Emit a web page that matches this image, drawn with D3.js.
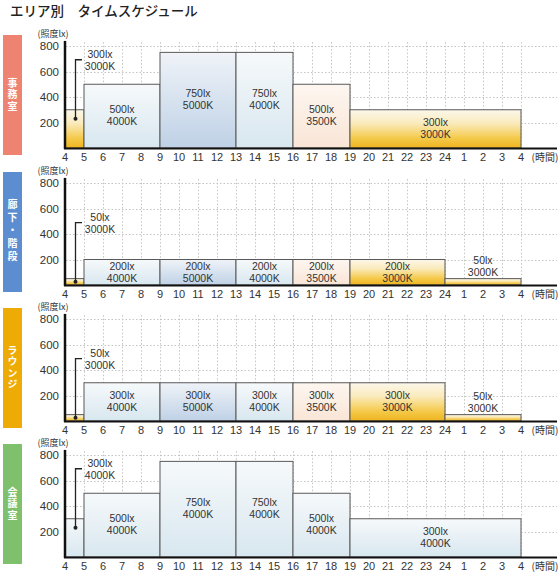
<!DOCTYPE html>
<html><head><meta charset="utf-8">
<script src="https://cdn.jsdelivr.net/npm/d3@7"></script>
<style>
html,body{margin:0;padding:0;background:#fff;}
svg{display:block;font-family:"Noto Sans CJK JP","Noto Sans",sans-serif;}
.num{font-family:"Liberation Sans",Arial,sans-serif;}
</style></head>
<body>
<script>
// ---------- data ----------
const title = "エリア別　タイムスケジュール";
const areaNames = ["事務室", "廊下・階段", "ラウンジ", "会議室"];
const hourTicks = [4,5,6,7,8,9,10,11,12,13,14,15,16,17,18,19,20,21,22,23,24,25,26,27,28];
const hourLabels = ["4","5","6","7","8","9","10","11","12","13","14","15","16","17","18","19","20","21","22","23","24","1","2","3","4"];
const luxTicks = [200, 400, 600, 800];

const officeStart = [4, 5, 9, 13, 16, 19];
const officeEnd   = [5, 9, 13, 16, 19, 28];
const officeLux   = [300, 500, 750, 750, 500, 300];
const officeK     = [3000, 4000, 5000, 4000, 3500, 3000];

const corridorStart = [4, 5, 9, 13, 16, 19, 24];
const corridorEnd   = [5, 9, 13, 16, 19, 24, 28];
const corridorLux   = [50, 200, 200, 200, 200, 200, 50];
const corridorK     = [3000, 4000, 5000, 4000, 3500, 3000, 3000];

const loungeStart = [4, 5, 9, 13, 16, 19, 24];
const loungeEnd   = [5, 9, 13, 16, 19, 24, 28];
const loungeLux   = [50, 300, 300, 300, 300, 300, 50];
const loungeK     = [3000, 4000, 5000, 4000, 3500, 3000, 3000];

const meetingStart = [4, 5, 9, 13, 16, 19];
const meetingEnd   = [5, 9, 13, 16, 19, 28];
const meetingLux   = [300, 500, 750, 750, 500, 300];
const meetingK     = [4000, 4000, 4000, 4000, 4000, 4000];

// ---------- styles ----------
const areaColors = ["#ee8372", "#5d8dd1", "#efab05", "#7fc06c"];
const W = 560, H = 576;
const baselines = [148, 285, 421, 557];
const plotH = 102;

const svg = d3.select("body").append("svg").attr("width", W).attr("height", H);
const defs = svg.append("defs");
function grad(id, stops) {
  const g = defs.append("linearGradient").attr("id", id)
    .attr("x1", 0).attr("y1", 0).attr("x2", 0).attr("y2", 1);
  stops.forEach(s => g.append("stop").attr("offset", s[0]).attr("stop-color", s[1]));
}
grad("k3000", [[0, "#fcf7ea"], [0.35, "#faebbd"], [0.75, "#f4c949"], [1, "#efb41f"]]);
grad("k3500", [[0, "#fdf6f0"], [1, "#f9e5d6"]]);
grad("k4000", [[0, "#f6f9fb"], [1, "#d8e7ef"]]);
grad("k5000", [[0, "#eff3f8"], [1, "#bfd1e6"]]);

svg.append("text").attr("x", 10).attr("y", 16).attr("font-size", 13.5)
  .attr("font-weight", 500).attr("fill", "#222").text(title);

const x = d3.scaleLinear().domain([4, 28]).range([65, 521]);

const areas = [
  {start: officeStart, end: officeEnd, lux: officeLux, k: officeK},
  {start: corridorStart, end: corridorEnd, lux: corridorLux, k: corridorK},
  {start: loungeStart, end: loungeEnd, lux: loungeLux, k: loungeK},
  {start: meetingStart, end: meetingEnd, lux: meetingLux, k: meetingK}
];

const LS = 12; // label line spacing
const FS = 10.5;

// two-line label as a single text element
function twoLine(g, cx, firstY, lines) {
  const t = g.append("text").attr("class", "num").attr("text-anchor", "middle")
    .attr("font-size", FS).attr("fill", "#333");
  lines.forEach((s, k) => {
    t.append("tspan").attr("x", cx).attr("y", firstY + k * LS).attr("dy", "0.36em").text(s);
  });
}

areas.forEach((a, i) => {
  const B = baselines[i];
  const y = d3.scaleLinear().domain([0, 800]).range([B, B - plotH]);
  const g = svg.append("g");

  // side label (vertical writing)
  const rTop = B - 113, rH = 120;
  g.append("rect").attr("x", 3).attr("y", rTop).attr("width", 19).attr("height", rH)
    .attr("fill", areaColors[i]);
  g.append("text").attr("x", 12.5).attr("y", rTop + rH / 2)
    .attr("text-anchor", "middle")
    .style("writing-mode", "vertical-rl")
    .style("letter-spacing", areaNames[i].length >= 5 ? "3px" : "1.5px")
    .attr("font-size", 10).attr("font-weight", 700).attr("fill", "#fff")
    .text(areaNames[i]);

  // grid
  const grid = g.append("g").attr("stroke", "#c4c4c4").attr("stroke-width", 1)
    .attr("stroke-dasharray", "1.5,2");
  luxTicks.forEach(t => {
    grid.append("line").attr("x1", 66).attr("x2", 557)
      .attr("y1", Math.round(y(t)) + 0.5).attr("y2", Math.round(y(t)) + 0.5);
  });
  hourTicks.slice(1).forEach(h => {
    grid.append("line").attr("x1", Math.round(x(h)) + 0.5).attr("x2", Math.round(x(h)) + 0.5)
      .attr("y1", y(830)).attr("y2", B);
  });

  // bars
  a.start.forEach((s, j) => {
    const v = a.lux[j];
    g.append("rect").attr("x", x(s)).attr("y", y(v))
      .attr("width", x(a.end[j]) - x(s)).attr("height", B - y(v))
      .attr("fill", "url(#k" + a.k[j] + ")").attr("stroke", "#595959").attr("stroke-width", 1);
  });

  // bar labels (skip first = callout)
  a.start.forEach((s, j) => {
    if (j === 0) return;
    const v = a.lux[j];
    const cx = (x(s) + x(a.end[j])) / 2;
    const hgt = B - y(v);
    const first = hgt > 25 ? (y(v) + B) / 2 - 0.5 - LS / 2 : y(v) - 18;
    twoLine(g, cx, first, [v + "lx", a.k[j] + "K"]);
  });

  // callout for first segment
  const v0 = a.lux[0];
  const lx = 75.5;
  const ly = y(v0) - (v0 >= 200 ? 50 : 56);
  const dotY = Math.min(y(v0) + 9, (B + y(v0)) / 2);
  g.append("path").attr("d", `M${lx},${dotY}V${ly}H${82}`).attr("fill", "none")
    .attr("stroke", "#222").attr("stroke-width", 1.3);
  g.append("circle").attr("cx", lx).attr("cy", dotY).attr("r", 2).attr("fill", "#222");
  twoLine(g, 100, ly - 5.5, [v0 + "lx", a.k[0] + "K"]);

  // axes
  g.append("line").attr("x1", 64).attr("x2", 557).attr("y1", B + 0.5).attr("y2", B + 0.5)
    .attr("stroke", "#111").attr("stroke-width", 2);
  g.append("line").attr("x1", 65).attr("x2", 65).attr("y1", y(840)).attr("y2", B + 1)
    .attr("stroke", "#111").attr("stroke-width", 2.5);

  luxTicks.forEach(t => {
    g.append("text").attr("class", "num").attr("x", 59).attr("y", y(t)).attr("dy", "0.36em")
      .attr("text-anchor", "end").attr("font-size", 11.5).attr("fill", "#333").text(t);
  });
  g.append("text").attr("x", 53).attr("y", B - 114).attr("dy", "0.36em")
    .attr("text-anchor", "middle").attr("font-size", 9).attr("fill", "#333").text("(照度lx)");

  hourTicks.forEach((h, j) => {
    g.append("text").attr("class", "num").attr("x", x(h)).attr("y", B + 9).attr("dy", "0.36em")
      .attr("text-anchor", "middle").attr("font-size", 11).attr("fill", "#333").text(hourLabels[j]);
  });
  g.append("text").attr("x", 545).attr("y", B + 9).attr("dy", "0.36em")
    .attr("text-anchor", "middle").attr("font-size", 10).attr("fill", "#333").text("(時間)");
});
</script>
</body></html>
